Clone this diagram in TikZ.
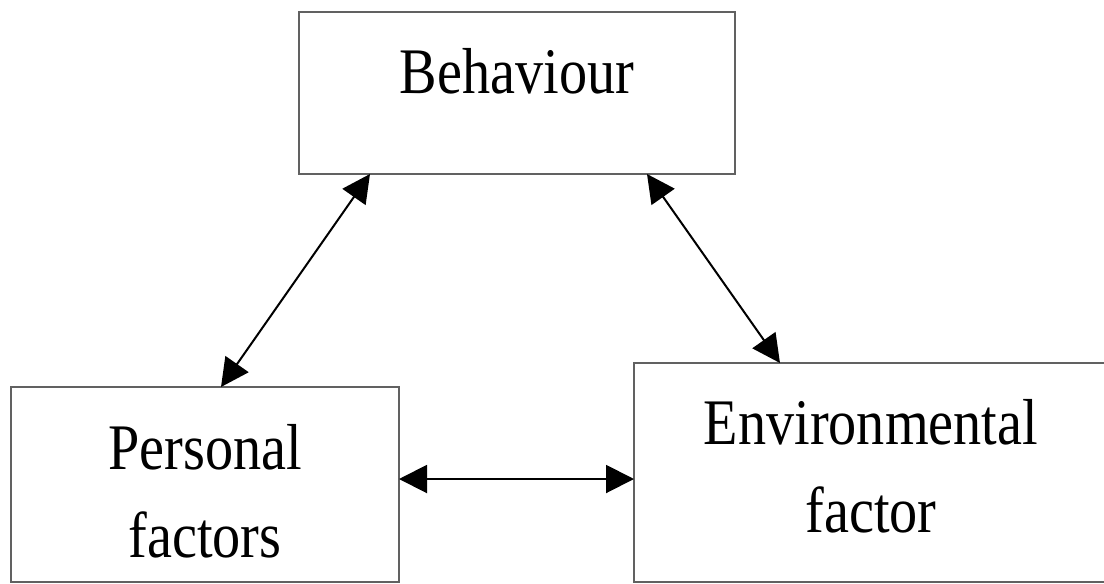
\documentclass[tikz,border=0pt]{standalone}
\usepackage{fontspec}
\usepackage{graphicx}
\setmainfont{Liberation Serif}
\usetikzlibrary{arrows.meta}
\begin{document}
\begin{tikzpicture}[x=0.5pt,y=-0.5pt,
  box/.style={draw=black!62,line width=0.8pt,fill=none,inner sep=0pt,outer sep=0pt,rectangle},
  lbl/.style={anchor=base,inner sep=0pt,font=\fontsize{32.5}{44}\selectfont},
  link/.style={line width=1pt,draw=black,{Triangle[length=14pt,width=14pt]}-{Triangle[length=14pt,width=14pt]},shorten <=0pt,shorten >=0pt}]
\useasboundingbox (0,0) rectangle (1104,584);
\fill[white] (0,0) rectangle (1104,584);
\node[box,minimum width=218pt,minimum height=81pt] (beh) at (517,93) {};
\node[box,minimum width=194pt,minimum height=97.5pt] (per) at (205,484.5) {};
\node[box,minimum width=237pt,minimum height=109.5pt] (env) at (871,472.5) {};
\node[lbl] (behT) at (517,93) {\scalebox{0.865}[1]{Behaviour}};
\node[lbl] (perT1) at (205,469) {\scalebox{0.865}[1]{Personal}};
\node[lbl] (perT2) at (205,557) {\scalebox{0.865}[1]{factors}};
\node[lbl] (envT1) at (871,444) {\scalebox{0.865}[1]{Environmental}};
\node[lbl] (envT2) at (871,532) {\scalebox{0.865}[1]{factor}};
\draw[link] ([xshift=35.5pt]beh.south west) -- ([xshift=105pt]per.north west);
\draw[link] ([xshift=174pt]beh.south west) -- ([xshift=73pt]env.north west);
\draw[link] ([yshift=2.75pt]per.east) -- ([yshift=-3.25pt]env.west);
\end{tikzpicture}
\end{document}
